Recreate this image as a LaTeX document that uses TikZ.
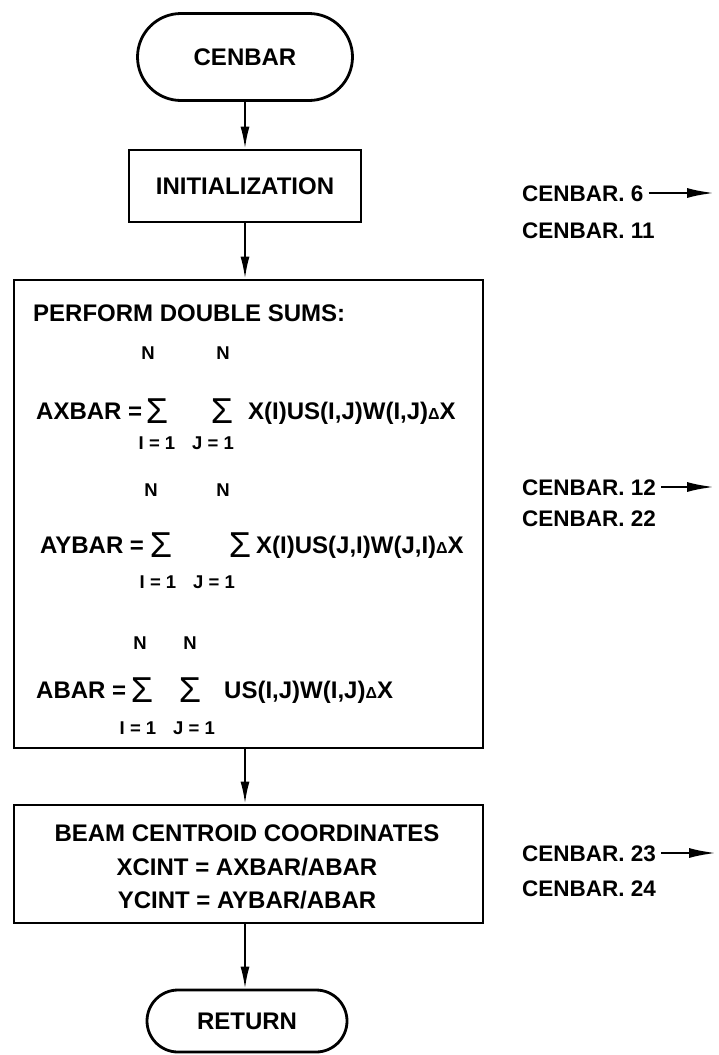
\documentclass[tikz,border=0pt]{standalone}
\usepackage{fontspec}
\setmainfont{Liberation Sans}
\usetikzlibrary{arrows.meta,shapes.misc}
% small increment sign used in the sums
\newcommand\smalldelta{{\fontsize{16}{16}\selectfont Δ}}
\begin{document}
\begin{tikzpicture}[x=1pt,y=-1pt,
  every node/.style={inner sep=0pt},
  term/.style={rounded rectangle, draw, line width=2.8pt},
  proc/.style={rectangle, draw, line width=2.8pt},
  flow/.style={line width=1.9pt, -{Latex[length=22pt,width=9pt]}},
  refarrow/.style={line width=2.8pt, -{Latex[length=28pt,width=10pt]}},
  txt/.style={font=\fontsize{24}{28}\selectfont\bfseries, text height=17.2pt, text depth=0pt},
  reflab/.style={font=\fontsize{22.5}{26}\selectfont\bfseries, text height=16.1pt, text depth=0pt},
  lim/.style={font=\fontsize{18.5}{22}\selectfont\bfseries, text height=13.3pt, text depth=0pt},
  sig/.style={font=\fontsize{36}{36}\selectfont, text height=25.8pt, text depth=0pt}]
\useasboundingbox (0,0) rectangle (719,1055);
\fill[white] (0,0) rectangle (719,1055);

% main flow
\node[term, minimum width=215pt, minimum height=87pt, txt] (start) at (245,57) {CENBAR};
\node[proc, minimum width=232pt, minimum height=72pt, txt] (init) at (245,186) {INITIALIZATION};
\node[proc, minimum width=469pt, minimum height=468pt] (sums) at (248.5,514) {};
\node[proc, minimum width=469pt, minimum height=118pt] (beam) at (248.5,864) {};
\node[term, minimum width=200pt, minimum height=62pt, txt] (ret) at (247,1021) {RETURN};

\draw[flow] (start) -- (init);
\draw[flow] (init.south) -- (init.south |- sums.north);
\draw[flow] (sums.south -| init.south) -- (init.south |- beam.north);
\draw[flow] (beam.south -| init.south) -- (init.south |- ret.north);

% double sums
\node[txt, anchor=west] (head) at (33,313) {PERFORM DOUBLE SUMS:};

\node[lim] (n1a) at (148,353) {N};
\node[lim] (n1b) at (223,353) {N};
\node[txt, anchor=west] (ax) at (36,411) {AXBAR =};
\node[sig] (s1a) at (157,411) {Σ};
\node[sig] (s1b) at (222,411) {Σ};
\node[txt, anchor=west] (e1) at (248,411) {X(I)US(I,J)W(I,J)\smalldelta X};
\node[lim] (i1) at (157,443) {I = 1};
\node[lim] (j1) at (213,443) {J = 1};

\node[lim] (n2a) at (151,490) {N};
\node[lim] (n2b) at (223,490) {N};
\node[txt, anchor=west] (ay) at (40,545) {AYBAR =};
\node[sig] (s2a) at (161,545) {Σ};
\node[sig] (s2b) at (240,545) {Σ};
\node[txt, anchor=west] (e2) at (256,545) {X(I)US(J,I)W(J,I)\smalldelta X};
\node[lim] (i2) at (158,582) {I = 1};
\node[lim] (j2) at (214,582) {J = 1};

\node[lim] (n3a) at (140,643) {N};
\node[lim] (n3b) at (190,643) {N};
\node[txt, anchor=west] (ab) at (36,690) {ABAR =};
\node[sig] (s3a) at (142,690) {Σ};
\node[sig] (s3b) at (190,690) {Σ};
\node[txt, anchor=west] (e3) at (224,690) {US(I,J)W(I,J)\smalldelta X};
\node[lim] (i3) at (138,728) {I = 1};
\node[lim] (j3) at (194,728) {J = 1};

% centroid box text
\node[txt] (b1) at (247,833) {BEAM CENTROID COORDINATES};
\node[txt] (b2) at (247,867) {XCINT = AXBAR/ABAR};
\node[txt] (b3) at (247,900) {YCINT = AYBAR/ABAR};

% source line references
\node[reflab, anchor=west] (l6) at (522,193) {CENBAR. 6};
\node[reflab, anchor=west] (l11) at (522,230) {CENBAR. 11};
\node[reflab, anchor=west] (l12) at (522,487) {CENBAR. 12};
\node[reflab, anchor=west] (l22) at (522,518) {CENBAR. 22};
\node[reflab, anchor=west] (l23) at (522,853) {CENBAR. 23};
\node[reflab, anchor=west] (l24) at (522,888) {CENBAR. 24};
\coordinate (a6) at (715,193);
\coordinate (a12) at (715,487);
\coordinate (a23) at (717,853);
\draw[refarrow] ([xshift=5pt]l6.east) -- (a6);
\draw[refarrow] ([xshift=5pt]l12.east) -- (a12);
\draw[refarrow] ([xshift=5pt]l23.east) -- (a23);
\end{tikzpicture}
\end{document}
